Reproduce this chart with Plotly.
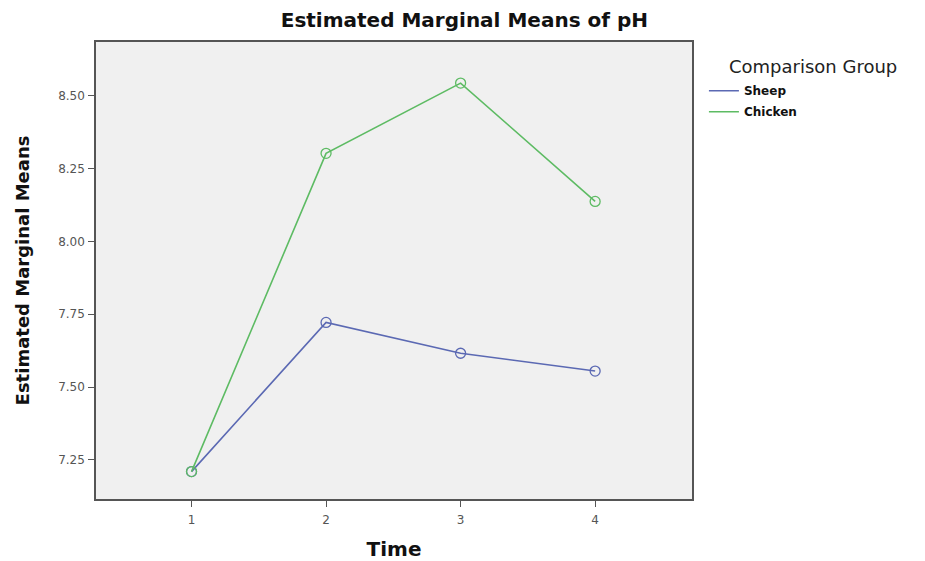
import plotly.graph_objects as go

time_points = [1, 2, 3, 4]
sheep_means = [7.21, 7.722, 7.616, 7.555]
chicken_means = [7.21, 8.302, 8.543, 8.137]
y_ticks = [7.25, 7.50, 7.75, 8.00, 8.25, 8.50]
groups = ["Sheep", "Chicken"]
colors = {"Sheep": "#5B69B3", "Chicken": "#5DBB63"}
series = {"Sheep": sheep_means, "Chicken": chicken_means}

fig = go.Figure()
for g in groups:
    fig.add_trace(go.Scatter(
        x=time_points, y=series[g], name=g, mode="lines+markers", showlegend=False,
        line=dict(color=colors[g], width=1.6),
        marker=dict(symbol="circle-open", size=10, color=colors[g], line=dict(width=1.3)),
    ))
for g in groups:
    fig.add_trace(go.Scatter(
        x=[None], y=[None], name=g, mode="lines", showlegend=True, legendgroup=g,
        line=dict(color=colors[g], width=1.6),
    ))

font_main = "DejaVu Sans, Liberation Sans, Arial, sans-serif"
fig.update_layout(
    width=925, height=561,
    margin=dict(l=96, r=233, t=42, b=62, autoexpand=False),
    paper_bgcolor="white", plot_bgcolor="#F0F0F0",
    font=dict(family=font_main, color="#222"),
    title=dict(text="<b>Estimated Marginal Means of pH</b>", x=0.502, xref="container",
               xanchor="center", y=0.9645, yref="container", yanchor="middle",
               font=dict(size=20, color="#111", family=font_main)),
    showlegend=True,
    legend=dict(
        font=dict(size=12, color="#111", family=font_main, weight="bold"),
        x=1.02, xanchor="left", y=0.925, yanchor="top",
        bgcolor="rgba(0,0,0,0)", itemwidth=30, tracegroupgap=2,
    ),
    xaxis=dict(
        range=[0.29, 4.72], tickvals=time_points, ticktext=[str(t) for t in time_points],
        showgrid=False, zeroline=False, automargin=False,
        showline=True, linecolor="#555", linewidth=1.5, mirror=True,
        ticks="outside", ticklen=6, tickcolor="#555", tickwidth=1,
        ticklabelstandoff=3,
        tickfont=dict(size=12, color="#555"),
        title=dict(text="<b>Time</b>", font=dict(size=20, color="#111"), standoff=18),
    ),
    yaxis=dict(
        range=[7.116, 8.684], tickvals=y_ticks, tickformat=".2f",
        showgrid=False, zeroline=False, automargin=False,
        showline=True, linecolor="#555", linewidth=1.5, mirror=True,
        ticks="outside", ticklen=6, tickcolor="#555", tickwidth=1,
        ticklabelstandoff=1,
        tickfont=dict(size=12, color="#555"),
        title=dict(text="<b>Estimated Marginal Means</b>", font=dict(size=18, color="#111"), standoff=24),
    ),
)
fig.add_annotation(text="Comparison Group", showarrow=False, xref="paper", yref="paper",
                   x=1.0587, y=0.947, xanchor="left", yanchor="middle",
                   font=dict(size=18, color="#222", family=font_main))

fig.write_html("out.html", post_script="document.body.style.margin='0';",
               config={"displayModeBar": False})
